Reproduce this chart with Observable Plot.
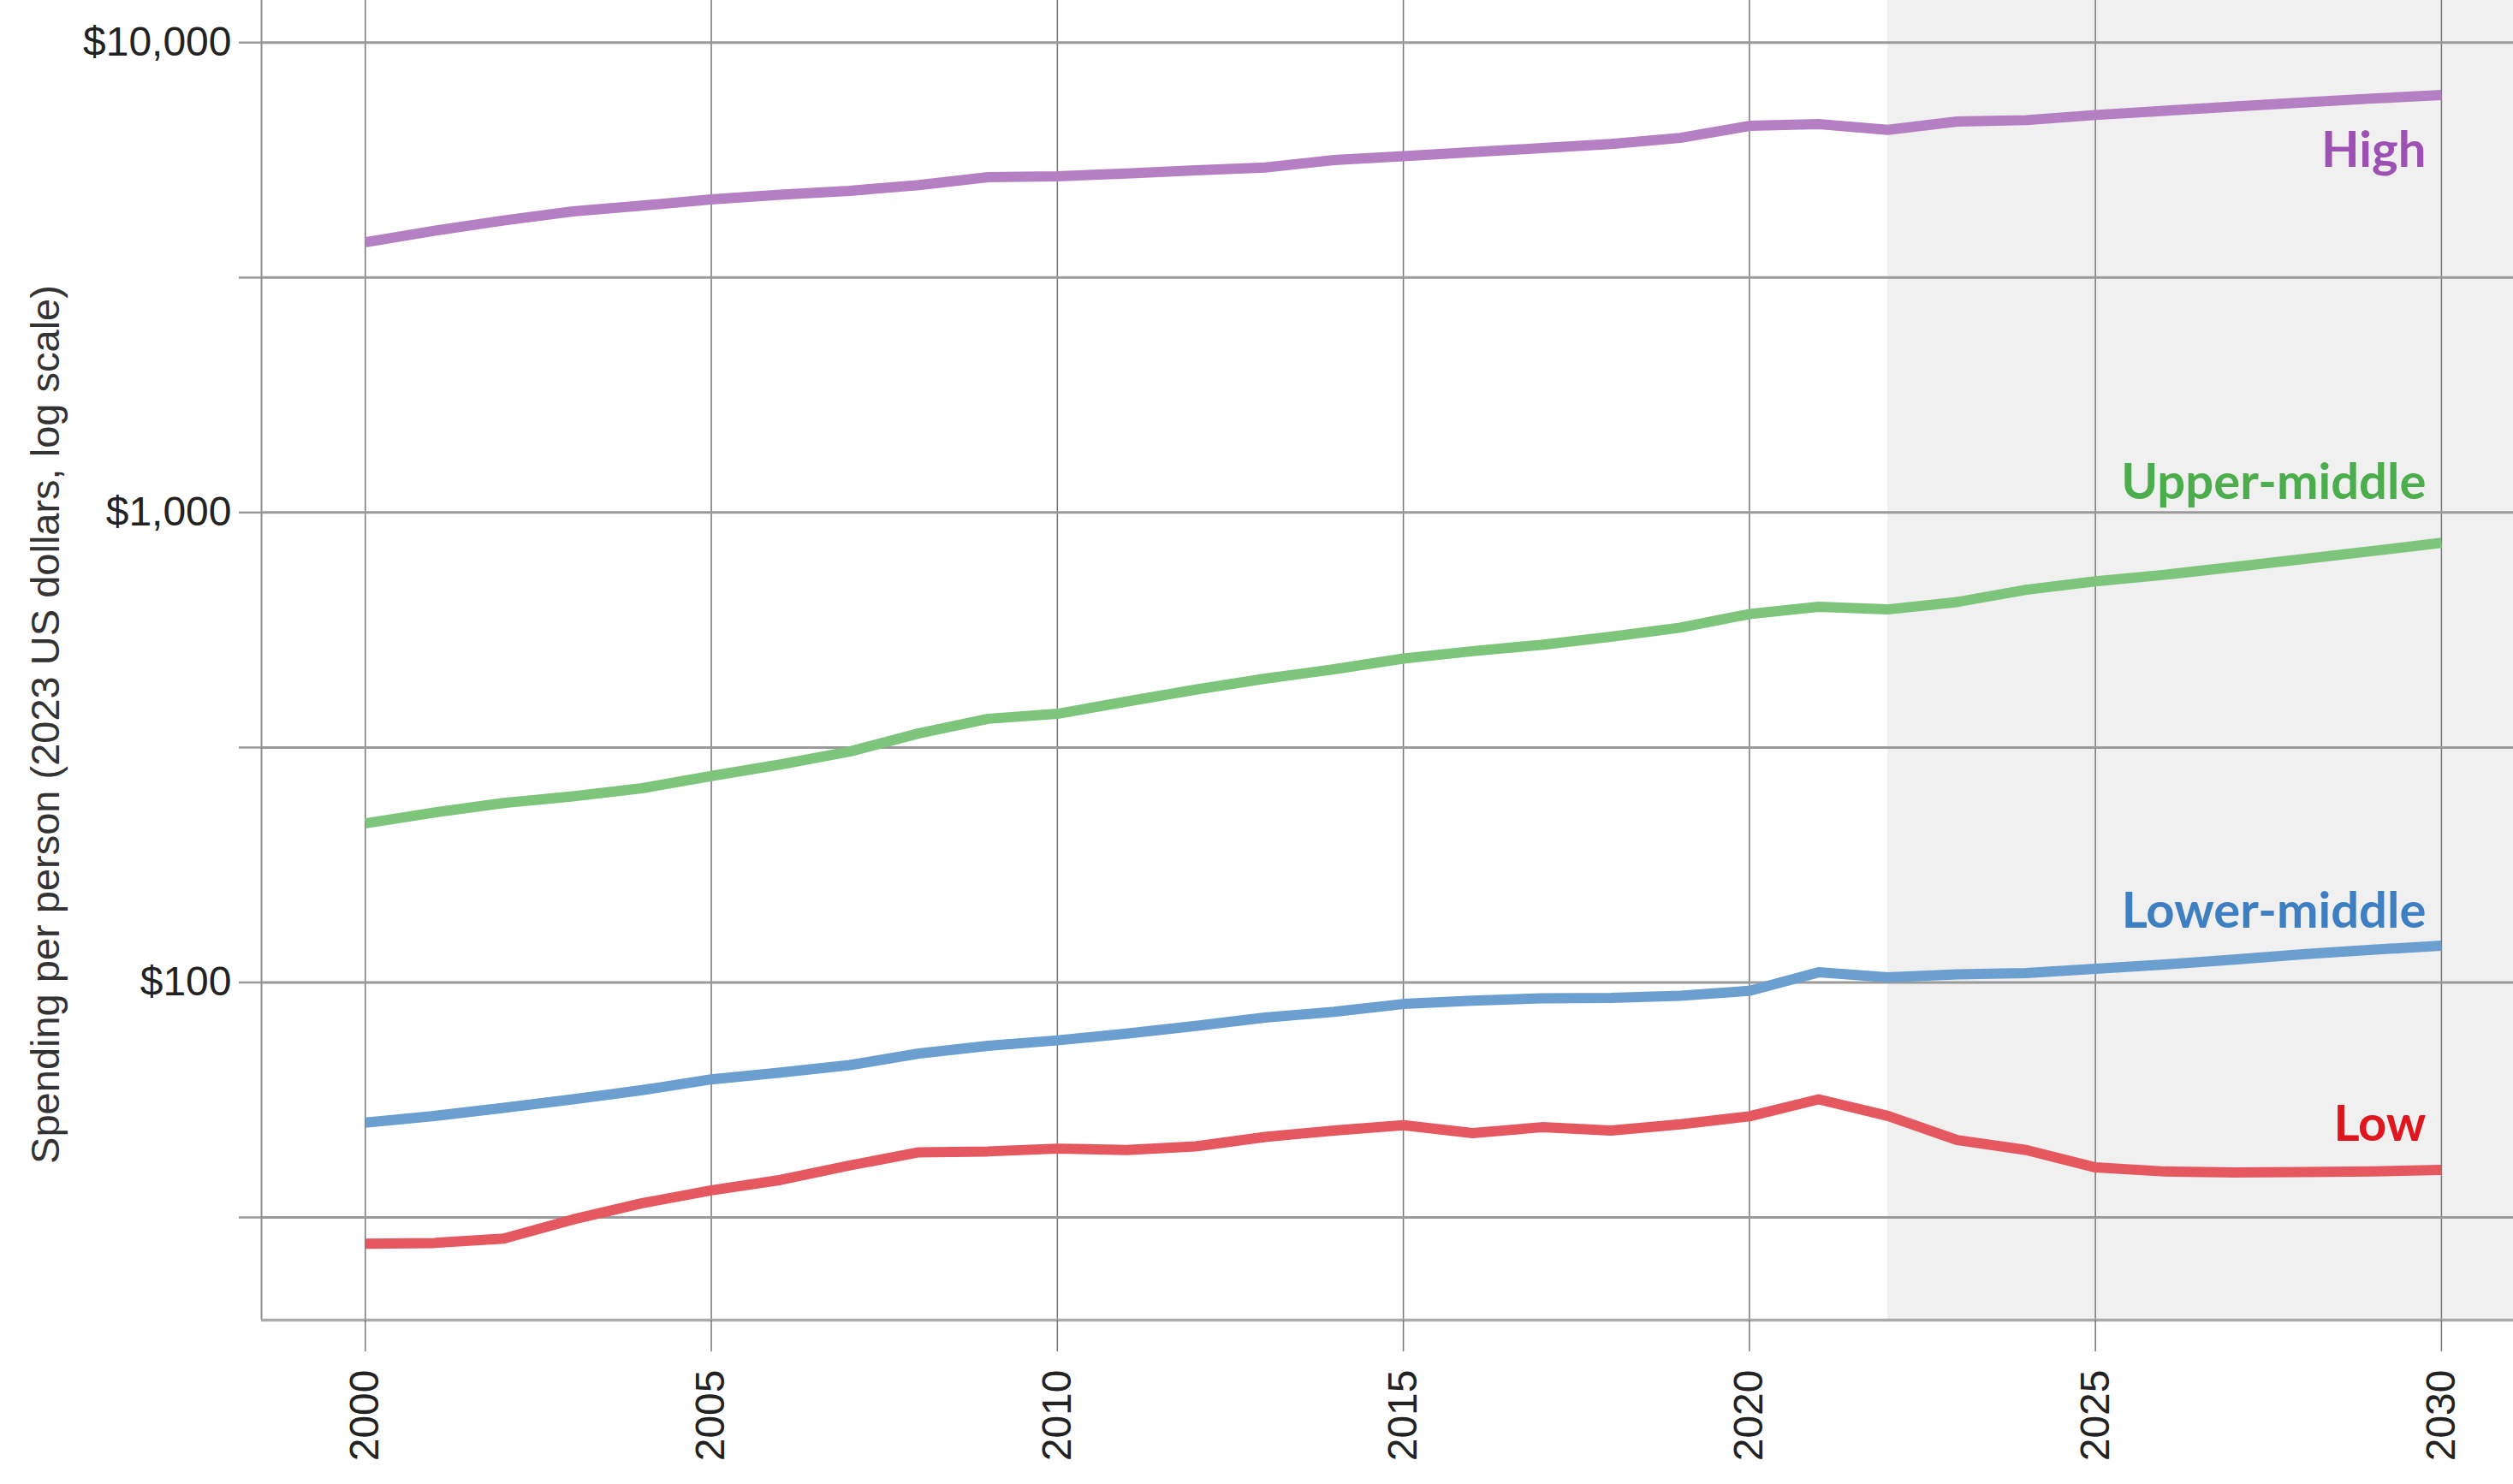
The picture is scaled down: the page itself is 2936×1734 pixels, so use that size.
<!DOCTYPE html>
<html>
<head>
<meta charset="utf-8">
<script src="https://cdn.jsdelivr.net/npm/d3@7"></script>
<script src="https://cdn.jsdelivr.net/npm/@observablehq/plot@0.6"></script>
<style>
  html, body { margin: 0; padding: 0; background: #fff; overflow: hidden; }
  #chart svg { display: block; }
</style>
</head>
<body>
<div id="chart"></div>
<script>
// ---- Data ----
const years = [2000, 2001, 2002, 2003, 2004, 2005, 2006, 2007, 2008, 2009,
               2010, 2011, 2012, 2013, 2014, 2015, 2016, 2017, 2018, 2019,
               2020, 2021, 2022, 2023, 2024, 2025, 2026, 2027, 2028, 2029, 2030];

const high = [3758, 3977, 4182, 4373, 4498, 4637, 4745, 4837, 4975, 5171,
              5193, 5267, 5349, 5423, 5623, 5730, 5848, 5962, 6087, 6269,
              6649, 6706, 6521, 6792, 6839, 7013, 7161, 7312, 7457, 7603, 7733];

const upperMiddle = [218, 230, 241, 249, 259, 275, 291, 310, 339, 364,
                     373, 396, 420, 443, 464, 489, 507, 523, 544, 569,
                     608, 630, 622, 645, 685, 714, 737, 766, 796, 828, 862];

const lowerMiddle = [50.3, 52.0, 54.1, 56.4, 59.0, 62.2, 64.3, 66.7, 70.6, 73.3,
                     75.3, 77.8, 80.8, 84.2, 86.6, 90.0, 91.5, 92.5, 92.7, 93.7,
                     96.0, 105.1, 102.5, 104.1, 104.7, 106.9, 109.2, 111.9, 114.8, 117.4, 119.7];

const low = [27.8, 27.9, 28.5, 31.3, 33.9, 36.1, 38.0, 40.8, 43.5, 43.7,
             44.3, 44.0, 44.8, 46.9, 48.4, 49.7, 47.8, 49.2, 48.4, 49.9,
             51.9, 56.4, 52.0, 46.2, 44.0, 40.4, 39.6, 39.4, 39.5, 39.6, 39.9];

const seriesNames = ["High", "Upper-middle", "Lower-middle", "Low"];
const projectionStart = 2022;

const xTicks = [2000, 2005, 2010, 2015, 2020, 2025, 2030];
const yTicks = [31.62, 100, 316.2, 1000, 3162, 10000];
const yTickLabels = ["", "$100", "", "$1,000", "", "$10,000"];
const yTitle = "Spending per person (2023 US dollars, log scale)";

// ---- Build table ----
const seriesValues = {
  "High": high,
  "Upper-middle": upperMiddle,
  "Lower-middle": lowerMiddle,
  "Low": low
};
const rows = seriesNames.flatMap(name =>
  years.map((year, i) => ({series: name, year, value: seriesValues[name][i]}))
);

// ---- Styles ----
const lineColors = {
  "High": "#b57fc4",
  "Upper-middle": "#7dc57b",
  "Lower-middle": "#6b9fd0",
  "Low": "#e6585f"
};
const labelColors = {
  "High": "#9d52b3",
  "Upper-middle": "#4cad4c",
  "Lower-middle": "#3d7fc1",
  "Low": "#e0161e"
};
const labelDy = {
  "High": 65,
  "Upper-middle": -70,
  "Lower-middle": -40,
  "Low": -53
};

const xDomain = [1998.5, 2031.04];
const yDomain = [19.12, 12295];

const lineMarks = seriesNames.map(name =>
  Plot.line(rows.filter(d => d.series === name), {
    x: "year", y: "value",
    stroke: lineColors[name], strokeWidth: 12,
    strokeLinecap: "butt", strokeLinejoin: "round"
  })
);

const labelMarks = seriesNames.map(name =>
  Plot.text(rows.filter(d => d.series === name && d.year === years[years.length - 1]), {
    x: "year", y: "value", text: "series",
    textAnchor: "end", lineAnchor: "middle",
    dx: -18, dy: labelDy[name],
    fill: labelColors[name],
    fontFamily: "Lato", fontWeight: 700, fontSize: 58
  })
);

const chart = Plot.plot({
  width: 2936,
  height: 1734,
  marginLeft: 305,
  marginRight: 0,
  marginTop: 0,
  marginBottom: 192,
  style: {fontFamily: "Liberation Sans", fontSize: "48px", color: "#222", background: "#fff", overflow: "visible"},
  x: {domain: xDomain},
  y: {type: "log", domain: yDomain},
  marks: [
    Plot.rect([{start: projectionStart, end: xDomain[1]}], {
      x1: "start", x2: "end", y1: yDomain[0], y2: yDomain[1], fill: "#f0f0f0"
    }),
    Plot.gridX({ticks: xTicks, stroke: "#777", strokeOpacity: 1, strokeWidth: 1.5}),
    Plot.gridY({ticks: yTicks, stroke: "#9a9a9a", strokeOpacity: 1, strokeWidth: 3}),
    Plot.ruleX([xDomain[0]], {stroke: "#8f8f8f", strokeWidth: 2}),
    Plot.ruleY([yDomain[0]], {stroke: "#aaa", strokeWidth: 3.5}),
    ...lineMarks,
    ...labelMarks,
    Plot.axisY({
      ticks: yTicks,
      tickFormat: d => yTickLabels[yTicks.indexOf(d)],
      tickSize: 26, tickPadding: 9,
      stroke: "#999", strokeWidth: 2.5,
      label: null
    }),
    Plot.axisX({
      ticks: xTicks,
      tickFormat: d => String(d),
      tickRotate: -90,
      tickSize: 37, tickPadding: 21,
      stroke: "#777", strokeWidth: 1.5,
      label: null
    }),
    Plot.text([yTitle], {
      text: d => d,
      frameAnchor: "left",
      rotate: -90,
      textAnchor: "middle",
      lineAnchor: "top",
      dx: -270, dy: 75,
      fontFamily: "Liberation Sans", fontSize: 47, fill: "#333"
    })
  ]
});

document.getElementById("chart").appendChild(chart);
</script>
</body>
</html>
